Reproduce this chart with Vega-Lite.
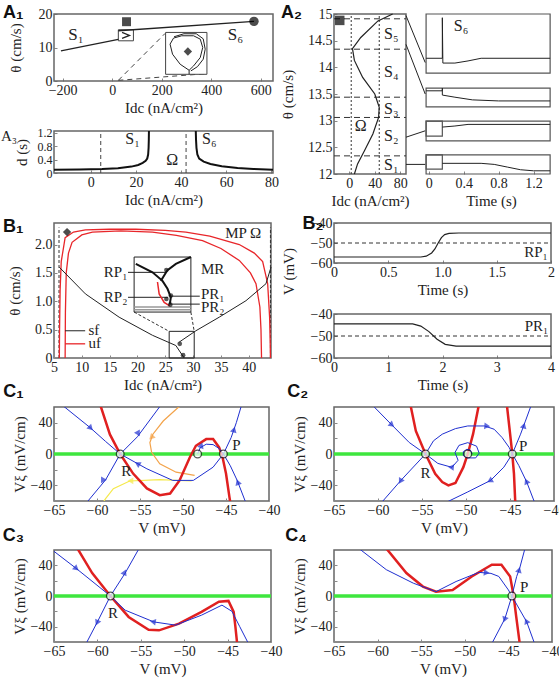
{
"$schema": "https://vega.github.io/schema/vega-lite/v6.json",
"padding": {"left": 0, "top": 3, "right": 2, "bottom": 2},
"columns": 2,
"align": "none",
"bounds": "flush",
"spacing": {"row": 49, "column": 61},
"config": {
  "view": {"stroke": "#666", "strokeWidth": 1.5},
  "axis": {"grid": false, "domain": false, "tickColor": "#888", "tickSize": -3, "labelPadding": 5, "labelFont": "Liberation Serif", "labelFontSize": 14, "labelColor": "#222", "labelFlush": false, "labelOverlap": false, "titleFont": "Liberation Serif", "titleFontSize": 15, "titleFontWeight": "normal", "titleColor": "#222", "titlePadding": 3},
  "text": {"font": "Liberation Serif", "fontSize": 15, "color": "#222"},
  "line": {"strokeWidth": 1, "color": "#222"},
  "point": {"filled": true}
},
"concat": [
 {"width": 219, "height": 160, "view": {"stroke": null},
  "resolve": {"scale": {"x": "independent", "y": "independent"}, "axis": {"x": "independent", "y": "independent"}},
  "layer": [
   {"encoding": {
      "x": {"field": "x", "type": "quantitative", "scale": {"domain": [-235, 650], "range": [0, 219], "nice": false, "zero": false}, "axis": {"values": [-200, 0, 200, 400, 600], "title": "Idc (nA/cm²)", "orient": "bottom", "offset": -93}},
      "y": {"field": "y", "type": "quantitative", "scale": {"domain": [0, 20], "range": [67, 0], "nice": false, "zero": false}, "axis": {"values": [0, 10, 20], "title": "θ (cm/s)", "titlePadding": 15, "orient": "left"}}
    },
    "layer": [
      {"data": {"values": [{"x": -235, "x2": 650, "y": 0, "y2": 20}]},
       "mark": {"type": "rect", "fill": "transparent", "stroke": "#666", "strokeWidth": 1.5}, "encoding": {"x2": {"field": "x2"}, "y2": {"field": "y2"}}},
      {"data": {"values": [{"s": 1, "x": 25, "y": 0.2}, {"s": 1, "x": 214, "y": 14.2}, {"s": 2, "x": 25, "y": 0.2}, {"s": 2, "x": 383, "y": 2.2}]},
       "mark": {"type": "line", "strokeDash": [5, 4], "color": "#444"}, "encoding": {"detail": {"field": "s"}, "order": {"value": null}}},
      {"data": {"values": [{"x": 216, "x2": 383, "y": 2.0, "y2": 14.5}, {"x": 25, "x2": 86, "y": 12, "y2": 15.3}]},
       "mark": {"type": "rect", "fill": "white", "stroke": "#444", "strokeWidth": 1}, "encoding": {"x2": {"field": "x2"}, "y2": {"field": "y2"}}},
      {"data": {"values": [{"s": 1, "x": -207, "y": 9.0}, {"s": 1, "x": 25, "y": 12.4}, {"s": 2, "x": 25, "y": 15.0}, {"s": 2, "x": 573, "y": 17.8}, {"s": 3, "x": 40, "y": 14.5}, {"s": 3, "x": 70, "y": 13.6}, {"s": 3, "x": 40, "y": 12.7}]},
       "mark": {"type": "line", "strokeWidth": 1.3}, "encoding": {"detail": {"field": "s"}, "order": {"value": null}}},
      {"data": {"values": [{"s": 1, "x": 311, "y": 3.2}, {"s": 1, "x": 275, "y": 5}, {"s": 1, "x": 244, "y": 8}, {"s": 1, "x": 234, "y": 11}, {"s": 1, "x": 248, "y": 12.8}, {"s": 1, "x": 281, "y": 13.5}, {"s": 1, "x": 329, "y": 13.5}, {"s": 1, "x": 356, "y": 12.5}, {"s": 1, "x": 366, "y": 10}, {"s": 1, "x": 356, "y": 7}, {"s": 1, "x": 329, "y": 4.5}, {"s": 1, "x": 311, "y": 3.2}, {"s": 2, "x": 311, "y": 3.2}, {"s": 2, "x": 311, "y": 2.0}, {"s": 3, "x": 250, "y": 13.2}, {"s": 3, "x": 290, "y": 14.1}, {"s": 3, "x": 340, "y": 14.1}, {"s": 3, "x": 368, "y": 12.6}, {"s": 3, "x": 376, "y": 9.5}, {"s": 3, "x": 368, "y": 6.5}, {"s": 3, "x": 345, "y": 4.3}, {"s": 3, "x": 318, "y": 3.0}]},
       "mark": {"type": "line", "strokeWidth": 1}, "encoding": {"detail": {"field": "s"}, "order": {"value": null}}},
      {"data": {"values": [{"x": 306, "y": 8.8}]}, "mark": {"type": "point", "shape": "diamond", "size": 70, "color": "#000"}},
      {"data": {"values": [{"x": 58, "y": 17.7}]}, "mark": {"type": "point", "shape": "square", "size": 80, "color": "#000"}},
      {"data": {"values": [{"x": 573, "y": 17.8}]}, "mark": {"type": "point", "shape": "circle", "size": 90, "color": "#000"}},
      {"data": {"values": [{"x": -146, "y": 13.6, "t": "S₁"}, {"x": 498, "y": 13.6, "t": "S₆"}]},
       "mark": {"type": "text", "fontSize": 17, "baseline": "middle"}, "encoding": {"text": {"field": "t"}}},
      {"data": {"values": [{"x": -441, "y": 18.8, "t": "A₁"}]},
       "mark": {"type": "text", "align": "left", "baseline": "alphabetic", "font": "Liberation Sans", "fontWeight": "bold", "fontSize": 18, "color": "#111"}, "encoding": {"text": {"field": "t"}}}
    ]},
   {"encoding": {
      "x": {"field": "x", "type": "quantitative", "scale": {"domain": [-16.3, 80.7], "range": [0, 219], "nice": false, "zero": false}, "axis": {"values": [0, 20, 40, 60, 80], "title": "Idc (nA/cm²)", "orient": "bottom", "offset": -1}},
      "y": {"field": "y", "type": "quantitative", "scale": {"domain": [0, 1.25], "range": [159, 117], "nice": false, "zero": false}, "axis": {"values": [0, 0.4, 0.8, 1.2], "labelExpr": "datum.value == 0 ? '0' : format(datum.value, '.1f')", "labelFontSize": 12, "title": "d (s)", "titlePadding": 8, "orient": "left"}}
    },
    "layer": [
      {"data": {"values": [{"x": -16.3, "x2": 80.7, "y": 0, "y2": 1.25}]},
       "mark": {"type": "rect", "fill": "transparent", "stroke": "#666", "strokeWidth": 1.5}, "encoding": {"x2": {"field": "x2"}, "y2": {"field": "y2"}}},
      {"data": {"values": [{"s": 1, "x": 4.4, "y": 0}, {"s": 1, "x": 4.4, "y": 1.25}, {"s": 2, "x": 42.2, "y": 0}, {"s": 2, "x": 42.2, "y": 1.25}]},
       "mark": {"type": "line", "strokeDash": [4, 3], "color": "#444"}, "encoding": {"detail": {"field": "s"}, "order": {"value": null}}},
      {"data": {"values": [{"s": 1, "x": -16.3, "y": 0.1}, {"s": 1, "x": -5, "y": 0.105}, {"s": 1, "x": 5, "y": 0.12}, {"s": 1, "x": 12, "y": 0.145}, {"s": 1, "x": 18, "y": 0.19}, {"s": 1, "x": 21, "y": 0.24}, {"s": 1, "x": 23, "y": 0.3}, {"s": 1, "x": 24.3, "y": 0.36}, {"s": 1, "x": 25, "y": 0.43}, {"s": 1, "x": 25.4, "y": 0.55}, {"s": 1, "x": 25.6, "y": 0.75}, {"s": 1, "x": 25.7, "y": 1.0}, {"s": 1, "x": 25.75, "y": 1.25},
         {"s": 2, "x": 46.5, "y": 1.25}, {"s": 2, "x": 46.6, "y": 1.0}, {"s": 2, "x": 46.8, "y": 0.75}, {"s": 2, "x": 47.2, "y": 0.55}, {"s": 2, "x": 48, "y": 0.43}, {"s": 2, "x": 50, "y": 0.34}, {"s": 2, "x": 53, "y": 0.27}, {"s": 2, "x": 58, "y": 0.2}, {"s": 2, "x": 65, "y": 0.15}, {"s": 2, "x": 72, "y": 0.12}, {"s": 2, "x": 80.7, "y": 0.1}]},
       "mark": {"type": "line", "strokeWidth": 2, "color": "#111"}, "encoding": {"detail": {"field": "s"}, "order": {"value": null}}},
      {"data": {"values": [{"x": 18.5, "y": 1.0, "t": "S₁"}, {"x": 52.5, "y": 1.0, "t": "S₆"}, {"x": 36, "y": 0.4, "t": "Ω"}]},
       "mark": {"type": "text", "fontSize": 16, "baseline": "middle"}, "encoding": {"text": {"field": "t"}}},
      {"data": {"values": [{"x": -39.8, "y": 0.95, "t": "A₃"}]},
       "mark": {"type": "text", "align": "left", "baseline": "alphabetic", "fontSize": 15}, "encoding": {"text": {"field": "t"}}}
    ]}
  ]},
 {"width": 217, "height": 160, "view": {"stroke": null},
  "resolve": {"scale": {"x": "independent", "y": "independent"}, "axis": {"x": "independent", "y": "independent"}},
  "layer": [
   {"encoding": {
      "x": {"field": "x", "type": "quantitative", "scale": {"domain": [-24, 89], "range": [0, 72], "nice": false, "zero": false}, "axis": {"values": [0, 40, 80], "title": "Idc (nA/cm²)", "orient": "bottom"}},
      "y": {"field": "y", "type": "quantitative", "scale": {"domain": [12, 15], "nice": false, "zero": false}, "axis": {"values": [12, 12.5, 13, 13.5, 14, 14.5, 15], "labelExpr": "datum.value % 1 == 0 ? format(datum.value, 'd') : format(datum.value, '.1f')", "title": "θ (cm/s)", "titlePadding": 12, "orient": "left"}}
    },
    "layer": [
      {"data": {"values": [{"x": -24, "x2": 89, "y": 12, "y2": 15}]},
       "mark": {"type": "rect", "fill": "transparent", "stroke": "#666", "strokeWidth": 1.5}, "encoding": {"x2": {"field": "x2"}, "y2": {"field": "y2"}}},
      {"data": {"values": [{"s": 1, "x": -24, "y": 14.91}, {"s": 1, "x": 89, "y": 14.91}, {"s": 2, "x": -24, "y": 14.34}, {"s": 2, "x": 89, "y": 14.34}, {"s": 3, "x": -24, "y": 13.44}, {"s": 3, "x": 89, "y": 13.44}, {"s": 4, "x": -24, "y": 13.06}, {"s": 4, "x": 89, "y": 13.06}, {"s": 5, "x": -24, "y": 12.34}, {"s": 5, "x": 89, "y": 12.34}]},
       "mark": {"type": "line", "strokeDash": [6, 4], "color": "#333"}, "encoding": {"detail": {"field": "s"}, "order": {"value": null}}},
      {"data": {"values": [{"s": 1, "x": 3, "y": 12}, {"s": 1, "x": 3, "y": 15}, {"s": 2, "x": 47, "y": 12}, {"s": 2, "x": 47, "y": 15}]},
       "mark": {"type": "line", "strokeDash": [2, 2], "color": "#333"}, "encoding": {"detail": {"field": "s"}, "order": {"value": null}}},
      {"data": {"values": [{"x": 68, "y": 15}, {"x": 45, "y": 14.87}, {"x": 18, "y": 14.56}, {"x": 5, "y": 14.35}, {"x": 8, "y": 14.13}, {"x": 21, "y": 13.81}, {"x": 40, "y": 13.5}, {"x": 47, "y": 13.25}, {"x": 46, "y": 13.06}, {"x": 37, "y": 12.75}, {"x": 24, "y": 12.44}, {"x": 13, "y": 12.19}, {"x": 8, "y": 12}]},
       "mark": {"type": "line", "strokeWidth": 1.2}, "encoding": {"order": {"value": null}}},
      {"data": {"values": [{"x": -15, "y": 14.88}]}, "mark": {"type": "point", "shape": "square", "size": 90, "color": "#000"}},
      {"data": {"values": [{"x": 66, "y": 14.62, "t": "S₅"}, {"x": 66, "y": 13.92, "t": "S₄"}, {"x": 66, "y": 13.22, "t": "S₃"}, {"x": 66, "y": 12.72, "t": "S₂"}, {"x": 66, "y": 12.17, "t": "S₁"}, {"x": 18, "y": 12.9, "t": "Ω"}]},
       "mark": {"type": "text", "fontSize": 16, "baseline": "middle"}, "encoding": {"text": {"field": "t"}}},
      {"data": {"values": [{"x": -107, "y": 14.925, "t": "A₂"}]},
       "mark": {"type": "text", "align": "left", "baseline": "alphabetic", "font": "Liberation Sans", "fontWeight": "bold", "fontSize": 18, "color": "#111"}, "encoding": {"text": {"field": "t"}}}
    ]},
   {"encoding": {
      "x": {"field": "x", "type": "quantitative", "scale": {"domain": [-0.26, 1.4], "range": [72, 217], "nice": false, "zero": false}, "axis": {"values": [0, 0.4, 0.8, 1.2], "labelExpr": "datum.value == 0 ? '0' : format(datum.value, '.1f')", "title": "Time (s)", "orient": "bottom", "titleX": 157}},
      "y": {"field": "y", "type": "quantitative", "scale": {"domain": [12, 15], "nice": false, "zero": false}, "axis": null}
    },
    "layer": [
      {"data": {"values": [{"x": -0.03, "x2": 1.39, "y": 13.89, "y2": 15}, {"x": -0.03, "x2": 1.39, "y": 13.26, "y2": 13.61}, {"x": -0.03, "x2": 1.39, "y": 12.62, "y2": 12.99}, {"x": -0.03, "x2": 1.39, "y": 12.0, "y2": 12.36}, {"x": -0.03, "x2": 0.156, "y": 12.71, "y2": 12.99}, {"x": -0.03, "x2": 0.156, "y": 12.09, "y2": 12.36}]},
       "mark": {"type": "rect", "fill": "transparent", "stroke": "#555", "strokeWidth": 1.2}, "encoding": {"x2": {"field": "x2"}, "y2": {"field": "y2"}}},
      {"data": {"values": [{"s": 1, "x": -0.03, "y": 14.17}, {"s": 1, "x": 0.156, "y": 14.17}, {"s": 1, "x": 0.156, "y": 14.93}, {"s": 1, "x": 0.162, "y": 14.08}, {"s": 1, "x": 0.3, "y": 14.08}, {"s": 1, "x": 0.45, "y": 14.12}, {"s": 1, "x": 0.6, "y": 14.17}, {"s": 1, "x": 1.39, "y": 14.17},
         {"s": 2, "x": -0.03, "y": 13.56}, {"s": 2, "x": 0.156, "y": 13.56}, {"s": 2, "x": 0.156, "y": 13.61}, {"s": 2, "x": 0.156, "y": 13.48}, {"s": 2, "x": 0.3, "y": 13.44}, {"s": 2, "x": 0.5, "y": 13.39}, {"s": 2, "x": 0.8, "y": 13.37}, {"s": 2, "x": 1.39, "y": 13.37},
         {"s": 3, "x": 0.156, "y": 12.88}, {"s": 3, "x": 0.3, "y": 12.9}, {"s": 3, "x": 0.45, "y": 12.93}, {"s": 3, "x": 1.39, "y": 12.93},
         {"s": 4, "x": 0.156, "y": 12.2}, {"s": 4, "x": 0.6, "y": 12.2}, {"s": 4, "x": 0.75, "y": 12.18}, {"s": 4, "x": 0.9, "y": 12.13}, {"s": 4, "x": 1.05, "y": 12.08}, {"s": 4, "x": 1.2, "y": 12.06}, {"s": 4, "x": 1.39, "y": 12.06},
         {"s": 5, "x": -0.26, "y": 14.97}, {"s": 5, "x": -0.04, "y": 14.09},
         {"s": 6, "x": -0.26, "y": 14.43}, {"s": 6, "x": -0.04, "y": 13.5},
         {"s": 7, "x": -0.26, "y": 12.69}, {"s": 7, "x": -0.04, "y": 12.81},
         {"s": 8, "x": -0.26, "y": 12.18}, {"s": 8, "x": -0.04, "y": 12.18}]},
       "mark": {"type": "line", "strokeWidth": 1}, "encoding": {"detail": {"field": "s"}, "order": {"value": null}}},
      {"data": {"values": [{"x": 0.37, "y": 14.78, "t": "S₆"}]}, "mark": {"type": "text", "fontSize": 16, "baseline": "middle"}, "encoding": {"text": {"field": "t"}}}
    ]}
  ]},
 {"width": 217, "height": 135,
  "encoding": {
    "x": {"field": "x", "type": "quantitative", "scale": {"domain": [5, 44], "nice": false, "zero": false}, "axis": {"values": [5, 10, 15, 20, 25, 30, 35, 40], "title": "Idc (nA/cm²)"}},
    "y": {"field": "y", "type": "quantitative", "scale": {"domain": [0, 2.38], "nice": false, "zero": false}, "axis": {"values": [0, 0.5, 1, 1.5, 2], "labelExpr": "datum.value == 0 ? '0' : format(datum.value, '.1f')", "title": "θ (cm/s)", "titlePadding": 12}}
  },
  "layer": [
    {"data": {"values": [{"s": 1, "x": 5.9, "y": 0}, {"s": 1, "x": 5.9, "y": 2.3}, {"s": 2, "x": 43.9, "y": 0}, {"s": 2, "x": 43.9, "y": 2.3}, {"s": 3, "x": 19.4, "y": 0.81}, {"s": 3, "x": 25.7, "y": 0.47}, {"s": 4, "x": 29.6, "y": 0.81}, {"s": 4, "x": 30.2, "y": 0.47}]},
     "mark": {"type": "line", "strokeDash": [3, 2], "color": "#333"}, "encoding": {"detail": {"field": "s"}, "order": {"value": null}}},
    {"data": {"values": [{"s": 1, "x": 5.96, "y": 0}, {"s": 1, "x": 6.0, "y": 0.5}, {"s": 1, "x": 6.1, "y": 1.2}, {"s": 1, "x": 6.3, "y": 1.7}, {"s": 1, "x": 7.0, "y": 2.12}, {"s": 1, "x": 8.5, "y": 2.22}, {"s": 1, "x": 10.65, "y": 2.26}, {"s": 1, "x": 15, "y": 2.27}, {"s": 1, "x": 19.7, "y": 2.27}, {"s": 1, "x": 25, "y": 2.25}, {"s": 1, "x": 28.7, "y": 2.22}, {"s": 1, "x": 33, "y": 2.15}, {"s": 1, "x": 38.3, "y": 2.0}, {"s": 1, "x": 41, "y": 1.85}, {"s": 1, "x": 42.5, "y": 1.7}, {"s": 1, "x": 43.4, "y": 1.31}, {"s": 1, "x": 43.75, "y": 0.72}, {"s": 1, "x": 43.85, "y": 0.3}, {"s": 1, "x": 43.9, "y": 0},
       {"s": 2, "x": 7.0, "y": 0}, {"s": 2, "x": 7.05, "y": 0.8}, {"s": 2, "x": 7.2, "y": 1.5}, {"s": 2, "x": 7.6, "y": 1.85}, {"s": 2, "x": 8.25, "y": 2.04}, {"s": 2, "x": 10, "y": 2.17}, {"s": 2, "x": 11.9, "y": 2.22}, {"s": 2, "x": 17, "y": 2.24}, {"s": 2, "x": 22.7, "y": 2.22}, {"s": 2, "x": 27, "y": 2.16}, {"s": 2, "x": 31.7, "y": 2.07}, {"s": 2, "x": 35, "y": 1.93}, {"s": 2, "x": 38.3, "y": 1.72}, {"s": 2, "x": 40.3, "y": 1.5}, {"s": 2, "x": 41.3, "y": 1.31}, {"s": 2, "x": 42.0, "y": 0.9}, {"s": 2, "x": 42.2, "y": 0.5}, {"s": 2, "x": 42.3, "y": 0}]},
     "mark": {"type": "line", "strokeWidth": 1.3, "color": "#e8262a"}, "encoding": {"detail": {"field": "s"}, "order": {"value": null}}},
    {"data": {"values": [{"s": 1, "x": 5.96, "y": 1.6}, {"s": 1, "x": 10.65, "y": 1.13}, {"s": 1, "x": 16.7, "y": 0.72}, {"s": 1, "x": 22.7, "y": 0.4}, {"s": 1, "x": 26.9, "y": 0.22}, {"s": 1, "x": 28.4, "y": 0.0},
       {"s": 2, "x": 27.5, "y": 0.28}, {"s": 2, "x": 30.5, "y": 0.48}, {"s": 2, "x": 34.7, "y": 0.72}, {"s": 2, "x": 39.5, "y": 1.01}, {"s": 2, "x": 43.1, "y": 1.31}, {"s": 2, "x": 44, "y": 1.6}]},
     "mark": {"type": "line", "strokeWidth": 1, "color": "#222"}, "encoding": {"detail": {"field": "s"}, "order": {"value": null}}},
    {"data": {"values": [{"x": 25.7, "x2": 30.2, "y": 0, "y2": 0.47}]},
     "mark": {"type": "rect", "fill": "transparent", "stroke": "#222", "strokeWidth": 1}, "encoding": {"x2": {"field": "x2"}, "y2": {"field": "y2"}}},
    {"data": {"values": [{"x": 19.4, "x2": 29.6, "y": 0.81, "y2": 1.78}]},
     "mark": {"type": "rect", "fill": "white", "stroke": "#222", "strokeWidth": 1}, "encoding": {"x2": {"field": "x2"}, "y2": {"field": "y2"}}},
    {"data": {"values": [{"s": 1, "x": 19.4, "y": 0.9}, {"s": 1, "x": 29.6, "y": 0.9}, {"s": 2, "x": 19.4, "y": 0.85}, {"s": 2, "x": 29.6, "y": 0.85}]},
     "mark": {"type": "line", "strokeWidth": 1.5, "color": "#999"}, "encoding": {"detail": {"field": "s"}, "order": {"value": null}}},
    {"data": {"values": [{"s": 1, "x": 18.3, "y": 1.51}, {"s": 1, "x": 25.1, "y": 1.51}, {"s": 2, "x": 18.3, "y": 1.07}, {"s": 2, "x": 25.5, "y": 1.07}, {"s": 3, "x": 26, "y": 1.09}, {"s": 3, "x": 31.2, "y": 1.09}, {"s": 4, "x": 26, "y": 0.95}, {"s": 4, "x": 31.2, "y": 0.95},
       {"s": 5, "x": 7, "y": 0.48}, {"s": 5, "x": 10.6, "y": 0.48}]},
     "mark": {"type": "line", "strokeWidth": 1, "color": "#222"}, "encoding": {"detail": {"field": "s"}, "order": {"value": null}}},
    {"data": {"values": [{"x": 7, "y": 0.25}, {"x": 10.6, "y": 0.25}]},
     "mark": {"type": "line", "strokeWidth": 1.3, "color": "#e8262a"}, "encoding": {"order": {"value": null}}},
    {"data": {"values": [{"s": 1, "x": 19.7, "y": 1.66}, {"s": 1, "x": 22.7, "y": 1.51}, {"s": 1, "x": 24.5, "y": 1.36}, {"s": 1, "x": 25.4, "y": 1.22}, {"s": 1, "x": 26.0, "y": 1.07}, {"s": 1, "x": 25.8, "y": 0.94},
       {"s": 2, "x": 29.6, "y": 1.78}, {"s": 2, "x": 26.9, "y": 1.66}, {"s": 2, "x": 25.4, "y": 1.55}, {"s": 2, "x": 24.2, "y": 1.36}]},
     "mark": {"type": "line", "strokeWidth": 2, "color": "#111"}, "encoding": {"detail": {"field": "s"}, "order": {"value": null}}},
    {"data": {"values": [{"x": 23.6, "y": 1.34}, {"x": 23.9, "y": 1.13}, {"x": 24.8, "y": 0.98}, {"x": 25.8, "y": 0.92}]},
     "mark": {"type": "line", "strokeWidth": 1.5, "color": "#e8262a"}, "encoding": {"order": {"value": null}}},
    {"data": {"values": [{"x": 25.2, "y": 1.55}, {"x": 26.0, "y": 1.1}, {"x": 25.2, "y": 1.04}, {"x": 25.9, "y": 0.94}, {"x": 28.2, "y": 0.05}, {"x": 27.6, "y": 0.25}]},
     "mark": {"type": "point", "shape": "circle", "size": 22, "color": "#111"}},
    {"data": {"values": [{"x": 7.35, "y": 2.22}]}, "mark": {"type": "point", "shape": "diamond", "size": 70, "color": "#000"}},
    {"data": {"values": [{"x": 18.2, "y": 1.51, "t": "RP₁"}, {"x": 18.2, "y": 1.07, "t": "RP₂"}]},
     "mark": {"type": "text", "align": "right", "baseline": "middle", "fontSize": 15}, "encoding": {"text": {"field": "t"}}},
    {"data": {"values": [{"x": 31.4, "y": 1.57, "t": "MR"}, {"x": 31.4, "y": 1.13, "t": "PR₁"}, {"x": 31.4, "y": 0.9, "t": "PR₂"}, {"x": 11.2, "y": 0.5, "t": "sf"}, {"x": 11.2, "y": 0.27, "t": "uf"}]},
     "mark": {"type": "text", "align": "left", "baseline": "middle", "fontSize": 15}, "encoding": {"text": {"field": "t"}}},
    {"data": {"values": [{"x": 39, "y": 2.2, "t": "MP Ω"}]},
     "mark": {"type": "text", "baseline": "middle", "fontSize": 15}, "encoding": {"text": {"field": "t"}}},
    {"data": {"values": [{"x": -4.17, "y": 2.22, "t": "B₁"}]},
     "mark": {"type": "text", "align": "left", "baseline": "alphabetic", "font": "Liberation Sans", "fontWeight": "bold", "fontSize": 18, "color": "#111"}, "encoding": {"text": {"field": "t"}}}
  ]},
 {"width": 217, "height": 135, "view": {"stroke": null},
  "resolve": {"scale": {"x": "independent", "y": "independent"}, "axis": {"x": "independent", "y": "independent"}},
  "layer": [
   {"encoding": {
      "x": {"field": "x", "type": "quantitative", "scale": {"domain": [0, 2], "range": [0, 217], "nice": false, "zero": false}, "axis": {"values": [0, 0.5, 1, 1.5, 2], "labelExpr": "datum.value == 0 || datum.value == 2 ? format(datum.value, 'd') : format(datum.value, '.1f')", "title": "Time (s)", "orient": "bottom", "offset": -95}},
      "y": {"field": "y", "type": "quantitative", "scale": {"domain": [-60, -40], "range": [40, 0], "nice": false, "zero": false}, "axis": {"values": [-60, -50, -40], "title": null, "orient": "left"}}
    },
    "layer": [
      {"data": {"values": [{"x": 0, "x2": 2, "y": -60, "y2": -40}]},
       "mark": {"type": "rect", "fill": "transparent", "stroke": "#666", "strokeWidth": 1.5}, "encoding": {"x2": {"field": "x2"}, "y2": {"field": "y2"}}},
      {"data": {"values": [{"x": 0, "y": -50}, {"x": 2, "y": -50}]}, "mark": {"type": "line", "strokeDash": [4, 3], "color": "#333"}, "encoding": {"order": {"value": null}}},
      {"data": {"values": [{"x": 0, "y": -57}, {"x": 0.8, "y": -57}, {"x": 0.85, "y": -56.6}, {"x": 0.9, "y": -55}, {"x": 0.93, "y": -53}, {"x": 0.96, "y": -50}, {"x": 0.99, "y": -47.3}, {"x": 1.02, "y": -45.8}, {"x": 1.06, "y": -45.2}, {"x": 1.15, "y": -45}, {"x": 2, "y": -45}]},
       "mark": {"type": "line", "strokeWidth": 1.2}, "encoding": {"order": {"value": null}}},
      {"data": {"values": [{"x": 1.97, "y": -54.3, "t": "RP₁"}]}, "mark": {"type": "text", "align": "right", "baseline": "middle", "fontSize": 15}, "encoding": {"text": {"field": "t"}}},
      {"data": {"values": [{"x": -0.29, "y": -43.2, "t": "B₂"}]},
       "mark": {"type": "text", "align": "left", "baseline": "alphabetic", "font": "Liberation Sans", "fontWeight": "bold", "fontSize": 18, "color": "#111"}, "encoding": {"text": {"field": "t"}}}
    ]},
   {"encoding": {
      "x": {"field": "x", "type": "quantitative", "scale": {"domain": [0, 4], "range": [0, 217], "nice": false, "zero": false}, "axis": {"values": [0, 1, 2, 3, 4], "title": "Time (s)", "orient": "bottom"}},
      "y": {"field": "y", "type": "quantitative", "scale": {"domain": [-60, -40], "range": [135, 91], "nice": false, "zero": false}, "axis": {"values": [-60, -50, -40], "title": "V (mV)", "titleY": 48, "titlePadding": 14, "orient": "left"}}
    },
    "layer": [
      {"data": {"values": [{"x": 0, "x2": 4, "y": -60, "y2": -40}]},
       "mark": {"type": "rect", "fill": "transparent", "stroke": "#666", "strokeWidth": 1.5}, "encoding": {"x2": {"field": "x2"}, "y2": {"field": "y2"}}},
      {"data": {"values": [{"x": 0, "y": -50}, {"x": 4, "y": -50}]}, "mark": {"type": "line", "strokeDash": [4, 3], "color": "#333"}, "encoding": {"order": {"value": null}}},
      {"data": {"values": [{"x": 0, "y": -44.5}, {"x": 1.45, "y": -44.5}, {"x": 1.6, "y": -45.5}, {"x": 1.75, "y": -48}, {"x": 1.9, "y": -51.5}, {"x": 2.05, "y": -53.8}, {"x": 2.25, "y": -54.6}, {"x": 4, "y": -54.6}]},
       "mark": {"type": "line", "strokeWidth": 1.2}, "encoding": {"order": {"value": null}}},
      {"data": {"values": [{"x": 3.95, "y": -45.3, "t": "PR₁"}]}, "mark": {"type": "text", "align": "right", "baseline": "middle", "fontSize": 15}, "encoding": {"text": {"field": "t"}}}
    ]}
  ]},
 {"width": 215, "height": 94,
  "encoding": {
    "x": {"field": "x", "type": "quantitative", "scale": {"domain": [-65, -40], "nice": false, "zero": false}, "axis": {"values": [-65, -60, -55, -50, -45, -40], "title": "V (mV)"}},
    "y": {"field": "y", "type": "quantitative", "scale": {"domain": [-60, 60], "nice": false, "zero": false}, "axis": {"values": [-40, -20, 0, 20, 40], "labelExpr": "datum.value == 20 || datum.value == -20 ? '' : datum.label", "title": "Vξ (mV/cm)"}}
  },
  "layer": [
    {"data": {"values": [{"x": -65, "y": 0}, {"x": -40, "y": 0}]}, "mark": {"type": "line", "strokeWidth": 3.5, "color": "#3ee63e"}, "encoding": {"order": {"value": null}}},
    {"data": {"values": [{"x": -48.65, "y": -27.4}, {"x": -50.8, "y": -23.2}, {"x": -52.7, "y": -12.6}, {"x": -53.65, "y": 2.1}, {"x": -53.85, "y": 14.7}, {"x": -53.5, "y": 25.3}, {"x": -52.3, "y": 42.1}, {"x": -50.6, "y": 59}, {"x": -50.2, "y": 62}]},
     "mark": {"type": "line", "strokeWidth": 1.2, "color": "#f3a34a", "clip": true}, "encoding": {"order": {"value": null}}},
    {"data": {"values": [{"x": -49, "y": -34.5}, {"x": -52.7, "y": -32.8}, {"x": -56.2, "y": -34.5}, {"x": -58.1, "y": -44.2}, {"x": -59, "y": -57}, {"x": -59.3, "y": -62}]},
     "mark": {"type": "line", "strokeWidth": 1.2, "color": "#f5e94a", "clip": true}, "encoding": {"order": {"value": null}}},
    {"data": {"values": [{"x": -59.6, "y": 62}, {"x": -58.5, "y": 25}, {"x": -57.3, "y": 0}, {"x": -55.8, "y": -25}, {"x": -54.2, "y": -44}, {"x": -52.7, "y": -52.6}, {"x": -51.5, "y": -50.5}, {"x": -50.4, "y": -33.7}, {"x": -49.2, "y": -4.2}, {"x": -48.5, "y": 10.5}, {"x": -47.3, "y": 19}, {"x": -46.5, "y": 19}, {"x": -45.8, "y": 8.4}, {"x": -45.4, "y": -4.2}, {"x": -45, "y": -25}, {"x": -44.6, "y": -55}, {"x": -44.5, "y": -62}]},
     "mark": {"type": "line", "strokeWidth": 2.5, "color": "#e02020", "clip": true}, "encoding": {"order": {"value": null}}},
    {"data": {"values": [{"s": 1, "x": -64, "y": 62}, {"s": 1, "x": -60.8, "y": 33.7}, {"s": 1, "x": -59, "y": 16}, {"s": 1, "x": -57.3, "y": 0},
       {"s": 2, "x": -45.3, "y": 0}, {"s": 2, "x": -46.5, "y": -16.8}, {"s": 2, "x": -48.8, "y": -33.7}, {"s": 2, "x": -51.2, "y": -33.7}, {"s": 2, "x": -54.2, "y": -18.9}, {"s": 2, "x": -57.3, "y": 0},
       {"s": 3, "x": -61.2, "y": -62}, {"s": 3, "x": -59, "y": -33}, {"s": 3, "x": -57.3, "y": 0}, {"s": 3, "x": -55.3, "y": 22}, {"s": 3, "x": -52.6, "y": 62},
       {"s": 4, "x": -45.3, "y": 0}, {"s": 4, "x": -44.4, "y": 21}, {"s": 4, "x": -43.8, "y": 40}, {"s": 4, "x": -43.2, "y": 62},
       {"s": 5, "x": -42.7, "y": -62}, {"s": 5, "x": -43.7, "y": -33.7}, {"s": 5, "x": -44.5, "y": -15}, {"s": 5, "x": -45.3, "y": 0},
       {"s": 6, "x": -48.3, "y": 0}, {"s": 6, "x": -48, "y": 8}, {"s": 6, "x": -47.3, "y": 12.5}, {"s": 6, "x": -46.5, "y": 12}, {"s": 6, "x": -45.8, "y": 7}, {"s": 6, "x": -45.3, "y": 0}]},
     "mark": {"type": "line", "strokeWidth": 1, "color": "#1f2fd0", "clip": true}, "encoding": {"detail": {"field": "s"}, "order": {"value": null}}},
    {"data": {"values": [{"x": -60.8, "y": 33.7, "a": 135}, {"x": -59.3, "y": -33, "a": 210}, {"x": -55.25, "y": 27, "a": 30}, {"x": -55.2, "y": -13, "a": 300}, {"x": -44.1, "y": 30, "a": 15}, {"x": -43.6, "y": -37, "a": 340}, {"x": -47.9, "y": 10, "a": 260}]},
     "mark": {"type": "point", "shape": "triangle", "size": 45, "color": "#1f2fd0"}, "encoding": {"angle": {"field": "a", "type": "quantitative", "scale": null}}},
    {"data": {"values": [{"x": -53.6, "y": 22, "a": 345}]},
     "mark": {"type": "point", "shape": "triangle", "size": 45, "color": "#f3a34a"}, "encoding": {"angle": {"field": "a", "type": "quantitative", "scale": null}}},
    {"data": {"values": [{"x": -56, "y": -34.3, "a": 270}]},
     "mark": {"type": "point", "shape": "triangle", "size": 45, "color": "#f5e94a"}, "encoding": {"angle": {"field": "a", "type": "quantitative", "scale": null}}},
    {"data": {"values": [{"x": -57.3, "y": 0}, {"x": -48.3, "y": 0}, {"x": -45.3, "y": 0}]},
     "mark": {"type": "point", "shape": "circle", "size": 60, "fill": "white", "stroke": "#111", "strokeWidth": 1.3}},
    {"data": {"values": [{"x": -56.6, "y": -22, "t": "R"}, {"x": -43.8, "y": 12, "t": "P"}]},
     "mark": {"type": "text", "baseline": "middle", "fontSize": 15}, "encoding": {"text": {"field": "t"}}},
    {"data": {"values": [{"x": -70.9, "y": 72.8, "t": "C₁"}]},
     "mark": {"type": "text", "align": "left", "baseline": "alphabetic", "font": "Liberation Sans", "fontWeight": "bold", "fontSize": 18, "color": "#111"}, "encoding": {"text": {"field": "t"}}}
  ]},
 {"width": 220, "height": 94,
  "encoding": {
    "x": {"field": "x", "type": "quantitative", "scale": {"domain": [-65, -40], "nice": false, "zero": false}, "axis": {"values": [-65, -60, -55, -50, -45, -40], "title": "V (mV)"}},
    "y": {"field": "y", "type": "quantitative", "scale": {"domain": [-60, 60], "nice": false, "zero": false}, "axis": {"values": [-40, -20, 0, 20, 40], "labelExpr": "datum.value == 20 || datum.value == -20 ? '' : datum.label", "title": "Vξ (mV/cm)"}}
  },
  "layer": [
    {"data": {"values": [{"x": -65, "y": 0}, {"x": -40, "y": 0}]}, "mark": {"type": "line", "strokeWidth": 3.5, "color": "#3ee63e"}, "encoding": {"order": {"value": null}}},
    {"data": {"values": [{"s": 1, "x": -56.3, "y": 62}, {"s": 1, "x": -55.7, "y": 29.5}, {"s": 1, "x": -54.6, "y": 0}, {"s": 1, "x": -53.5, "y": -25.3}, {"s": 1, "x": -52.7, "y": -35.8}, {"s": 1, "x": -52, "y": -40}, {"s": 1, "x": -51.2, "y": -37}, {"s": 1, "x": -50.3, "y": -16.8}, {"s": 1, "x": -49.8, "y": 0}, {"s": 1, "x": -49.2, "y": 25.3}, {"s": 1, "x": -48.55, "y": 62},
       {"s": 2, "x": -45.35, "y": 62}, {"s": 2, "x": -44.9, "y": 16.8}, {"s": 2, "x": -44.74, "y": 0}, {"s": 2, "x": -44.55, "y": -25}, {"s": 2, "x": -44.4, "y": -62}]},
     "mark": {"type": "line", "strokeWidth": 2.5, "color": "#e02020", "clip": true}, "encoding": {"detail": {"field": "s"}, "order": {"value": null}}},
    {"data": {"values": [{"s": 1, "x": -60.6, "y": 62}, {"s": 1, "x": -58.5, "y": 37.9}, {"s": 1, "x": -56.45, "y": 14.7}, {"s": 1, "x": -54.6, "y": 0},
       {"s": 2, "x": -49.3, "y": 0}, {"s": 2, "x": -49.5, "y": 5}, {"s": 2, "x": -49.9, "y": 6}, {"s": 2, "x": -50.3, "y": 3}, {"s": 2, "x": -50.3, "y": -2}, {"s": 2, "x": -49.8, "y": -5}, {"s": 2, "x": -48.9, "y": -5}, {"s": 2, "x": -48.5, "y": 1}, {"s": 2, "x": -48.8, "y": 10}, {"s": 2, "x": -49.8, "y": 14.5}, {"s": 2, "x": -50.8, "y": 11}, {"s": 2, "x": -51.25, "y": 2}, {"s": 2, "x": -50.9, "y": -8}, {"s": 2, "x": -51.6, "y": -17}, {"s": 2, "x": -53.2, "y": -12}, {"s": 2, "x": -54.6, "y": 0},
       {"s": 3, "x": -54.6, "y": 0}, {"s": 3, "x": -57.4, "y": -33.7}, {"s": 3, "x": -59.6, "y": -62},
       {"s": 4, "x": -54.6, "y": 0}, {"s": 4, "x": -53.7, "y": 16.8}, {"s": 4, "x": -52.7, "y": 25.3}, {"s": 4, "x": -51.2, "y": 32.4}, {"s": 4, "x": -49.8, "y": 35.8}, {"s": 4, "x": -47.9, "y": 35.8}, {"s": 4, "x": -46.8, "y": 31.6}, {"s": 4, "x": -45.9, "y": 21}, {"s": 4, "x": -45.1, "y": 8.4}, {"s": 4, "x": -44.74, "y": 0},
       {"s": 5, "x": -44.74, "y": 0}, {"s": 5, "x": -43.8, "y": 25.3}, {"s": 5, "x": -43.25, "y": 42}, {"s": 5, "x": -42.6, "y": 62},
       {"s": 6, "x": -44.74, "y": 0}, {"s": 6, "x": -45.7, "y": -16.8}, {"s": 6, "x": -47.2, "y": -33.7}, {"s": 6, "x": -49.8, "y": -48.4}, {"s": 6, "x": -52.3, "y": -62},
       {"s": 7, "x": -42.2, "y": -62}, {"s": 7, "x": -43.1, "y": -35.8}, {"s": 7, "x": -44, "y": -14.7}, {"s": 7, "x": -44.74, "y": 0}]},
     "mark": {"type": "line", "strokeWidth": 1, "color": "#1f2fd0", "clip": true}, "encoding": {"detail": {"field": "s"}, "order": {"value": null}}},
    {"data": {"values": [{"x": -58.5, "y": 37.9, "a": 130}, {"x": -57.4, "y": -33.7, "a": 210}, {"x": -47.7, "y": 35.8, "a": 95}, {"x": -51.6, "y": -17, "a": 275}, {"x": -43.45, "y": 35, "a": 15}, {"x": -47.2, "y": -33.7, "a": 240}, {"x": -43.1, "y": -35.8, "a": 335}]},
     "mark": {"type": "point", "shape": "triangle", "size": 45, "color": "#1f2fd0"}, "encoding": {"angle": {"field": "a", "type": "quantitative", "scale": null}}},
    {"data": {"values": [{"x": -54.6, "y": 0}, {"x": -49.8, "y": 0}, {"x": -44.74, "y": 0}]},
     "mark": {"type": "point", "shape": "circle", "size": 60, "fill": "white", "stroke": "#111", "strokeWidth": 1.3}},
    {"data": {"values": [{"x": -54.6, "y": -24, "t": "R"}, {"x": -43.5, "y": 10, "t": "P"}]},
     "mark": {"type": "text", "baseline": "middle", "fontSize": 15}, "encoding": {"text": {"field": "t"}}},
    {"data": {"values": [{"x": -70.3, "y": 72.8, "t": "C₂"}]},
     "mark": {"type": "text", "align": "left", "baseline": "alphabetic", "font": "Liberation Sans", "fontWeight": "bold", "fontSize": 18, "color": "#111"}, "encoding": {"text": {"field": "t"}}}
  ]},
 {"width": 217, "height": 92,
  "encoding": {
    "x": {"field": "x", "type": "quantitative", "scale": {"domain": [-65, -40], "nice": false, "zero": false}, "axis": {"values": [-65, -60, -55, -50, -45, -40], "title": "V (mV)"}},
    "y": {"field": "y", "type": "quantitative", "scale": {"domain": [-60, 60], "nice": false, "zero": false}, "axis": {"values": [-40, -20, 0, 20, 40], "labelExpr": "datum.value == 20 || datum.value == -20 ? '' : datum.label", "title": "Vξ (mV/cm)"}}
  },
  "layer": [
    {"data": {"values": [{"x": -65, "y": 0}, {"x": -40, "y": 0}]}, "mark": {"type": "line", "strokeWidth": 3.5, "color": "#3ee63e"}, "encoding": {"order": {"value": null}}},
    {"data": {"values": [{"x": -62.3, "y": 62}, {"x": -60.6, "y": 29.9}, {"x": -58.5, "y": 0}, {"x": -56.4, "y": -27.3}, {"x": -54.1, "y": -44}, {"x": -52.9, "y": -44.8}, {"x": -50.6, "y": -36}, {"x": -48, "y": -20.7}, {"x": -46, "y": -7.5}, {"x": -44.9, "y": -6.4}, {"x": -44.3, "y": -20.7}, {"x": -44.1, "y": -40.4}, {"x": -43.9, "y": -62}]},
     "mark": {"type": "line", "strokeWidth": 2.5, "color": "#e02020", "clip": true}, "encoding": {"order": {"value": null}}},
    {"data": {"values": [{"s": 1, "x": -65.2, "y": 60}, {"s": 1, "x": -62.5, "y": 36.5}, {"s": 1, "x": -58.5, "y": 0}, {"s": 1, "x": -56.8, "y": -18.5}, {"s": 1, "x": -53.5, "y": -33.8}, {"s": 1, "x": -51, "y": -38}, {"s": 1, "x": -48, "y": -25}, {"s": 1, "x": -45.65, "y": -11.9}, {"s": 1, "x": -44.5, "y": -20}, {"s": 1, "x": -43.6, "y": -40}, {"s": 1, "x": -42.6, "y": -62},
       {"s": 2, "x": -61.3, "y": -62}, {"s": 2, "x": -60, "y": -33.8}, {"s": 2, "x": -58.5, "y": 0}, {"s": 2, "x": -56.8, "y": 29.9}, {"s": 2, "x": -55.2, "y": 62}]},
     "mark": {"type": "line", "strokeWidth": 1, "color": "#1f2fd0", "clip": true}, "encoding": {"detail": {"field": "s"}, "order": {"value": null}}},
    {"data": {"values": [{"x": -62.5, "y": 36.5, "a": 130}, {"x": -53.5, "y": -33.8, "a": 280}, {"x": -60, "y": -33.8, "a": 205}, {"x": -56.9, "y": 29.9, "a": 25}]},
     "mark": {"type": "point", "shape": "triangle", "size": 45, "color": "#1f2fd0"}, "encoding": {"angle": {"field": "a", "type": "quantitative", "scale": null}}},
    {"data": {"values": [{"x": -58.5, "y": 0}]},
     "mark": {"type": "point", "shape": "circle", "size": 60, "fill": "white", "stroke": "#111", "strokeWidth": 1.3}},
    {"data": {"values": [{"x": -58.2, "y": -22, "t": "R"}]},
     "mark": {"type": "text", "baseline": "middle", "fontSize": 15}, "encoding": {"text": {"field": "t"}}},
    {"data": {"values": [{"x": -70.9, "y": 71.7, "t": "C₃"}]},
     "mark": {"type": "text", "align": "left", "baseline": "alphabetic", "font": "Liberation Sans", "fontWeight": "bold", "fontSize": 18, "color": "#111"}, "encoding": {"text": {"field": "t"}}}
  ]},
 {"width": 218, "height": 92,
  "encoding": {
    "x": {"field": "x", "type": "quantitative", "scale": {"domain": [-65, -40], "nice": false, "zero": false}, "axis": {"values": [-65, -60, -55, -50, -45, -40], "title": "V (mV)"}},
    "y": {"field": "y", "type": "quantitative", "scale": {"domain": [-60, 60], "nice": false, "zero": false}, "axis": {"values": [-40, -20, 0, 20, 40], "labelExpr": "datum.value == 20 || datum.value == -20 ? '' : datum.label", "title": "Vξ (mV/cm)"}}
  },
  "layer": [
    {"data": {"values": [{"x": -65, "y": 0}, {"x": -40, "y": 0}]}, "mark": {"type": "line", "strokeWidth": 3.5, "color": "#3ee63e"}, "encoding": {"order": {"value": null}}},
    {"data": {"values": [{"x": -59, "y": 62}, {"x": -56.7, "y": 29.9}, {"x": -54.8, "y": 12.3}, {"x": -53.3, "y": 5.7}, {"x": -51.4, "y": 7.9}, {"x": -49.2, "y": 25.5}, {"x": -46.9, "y": 40.9}, {"x": -45.8, "y": 40.9}, {"x": -44.8, "y": 25.5}, {"x": -44.4, "y": 0}, {"x": -44.1, "y": -27.3}, {"x": -43.7, "y": -62}]},
     "mark": {"type": "line", "strokeWidth": 2.5, "color": "#e02020", "clip": true}, "encoding": {"order": {"value": null}}},
    {"data": {"values": [{"s": 1, "x": -62, "y": 60.7}, {"s": 1, "x": -59, "y": 34.3}, {"s": 1, "x": -55.9, "y": 16.7}, {"s": 1, "x": -53.3, "y": 5.7}, {"s": 1, "x": -51, "y": 18.9}, {"s": 1, "x": -48.4, "y": 30.8}, {"s": 1, "x": -47, "y": 29.5}, {"s": 1, "x": -46.1, "y": 25.5}, {"s": 1, "x": -45, "y": 7.9}, {"s": 1, "x": -44.6, "y": 0},
       {"s": 2, "x": -44.6, "y": 0}, {"s": 2, "x": -44.05, "y": 25.5}, {"s": 2, "x": -43.7, "y": 36.5}, {"s": 2, "x": -43.1, "y": 62},
       {"s": 3, "x": -44.6, "y": 0}, {"s": 3, "x": -45.4, "y": -29.5}, {"s": 3, "x": -46.9, "y": -62},
       {"s": 4, "x": -42, "y": -62}, {"s": 4, "x": -42.9, "y": -33.8}, {"s": 4, "x": -44.6, "y": 0}]},
     "mark": {"type": "line", "strokeWidth": 1, "color": "#1f2fd0", "clip": true}, "encoding": {"detail": {"field": "s"}, "order": {"value": null}}},
    {"data": {"values": [{"x": -47.6, "y": 30.6, "a": 95}, {"x": -43.8, "y": 33, "a": 15}, {"x": -45.4, "y": -29.5, "a": 200}, {"x": -42.9, "y": -33.8, "a": 335}]},
     "mark": {"type": "point", "shape": "triangle", "size": 45, "color": "#1f2fd0"}, "encoding": {"angle": {"field": "a", "type": "quantitative", "scale": null}}},
    {"data": {"values": [{"x": -44.6, "y": 0}]},
     "mark": {"type": "point", "shape": "circle", "size": 60, "fill": "white", "stroke": "#111", "strokeWidth": 1.3}},
    {"data": {"values": [{"x": -43.2, "y": 12, "t": "P"}]},
     "mark": {"type": "text", "baseline": "middle", "fontSize": 15}, "encoding": {"text": {"field": "t"}}},
    {"data": {"values": [{"x": -70.6, "y": 71.7, "t": "C₄"}]},
     "mark": {"type": "text", "align": "left", "baseline": "alphabetic", "font": "Liberation Sans", "fontWeight": "bold", "fontSize": 18, "color": "#111"}, "encoding": {"text": {"field": "t"}}}
  ]}
]
}
